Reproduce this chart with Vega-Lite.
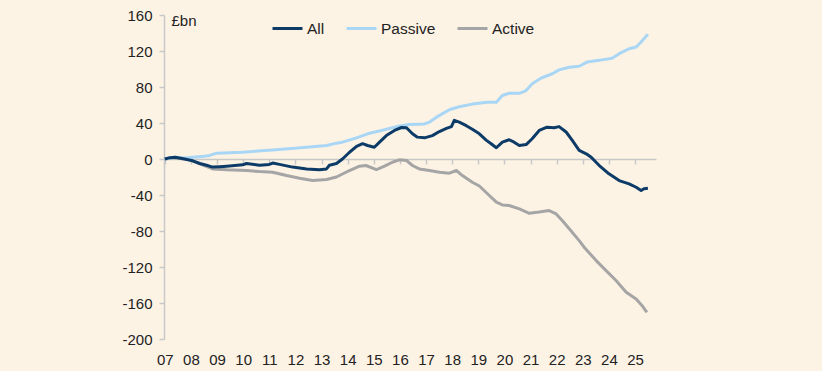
{
  "$schema": "https://vega.github.io/schema/vega-lite/v6.json",
  "autosize": "none",
  "width": 492,
  "height": 324,
  "padding": {"left": 164, "top": 15, "right": 166, "bottom": 32},
  "background": "#FDF3E5",
  "config": {
    "view": {"stroke": null},
    "font": "Liberation Sans"
  },
  "data": {
    "values": [
      {"series": "Active", "year": 2007.0, "value": 0},
      {"series": "Active", "year": 2007.3, "value": 1.5},
      {"series": "Active", "year": 2007.76, "value": 0},
      {"series": "Active", "year": 2007.96, "value": -1},
      {"series": "Active", "year": 2008.34, "value": -5.4},
      {"series": "Active", "year": 2008.83, "value": -11},
      {"series": "Active", "year": 2009.37, "value": -12},
      {"series": "Active", "year": 2010.13, "value": -12.8},
      {"series": "Active", "year": 2010.63, "value": -14},
      {"series": "Active", "year": 2011.13, "value": -14.7},
      {"series": "Active", "year": 2011.66, "value": -18.4},
      {"series": "Active", "year": 2012.16, "value": -21.4},
      {"series": "Active", "year": 2012.66, "value": -24},
      {"series": "Active", "year": 2013.19, "value": -22.8},
      {"series": "Active", "year": 2013.57, "value": -20},
      {"series": "Active", "year": 2014.07, "value": -12.8},
      {"series": "Active", "year": 2014.45, "value": -8},
      {"series": "Active", "year": 2014.7, "value": -7.2},
      {"series": "Active", "year": 2015.1, "value": -11.7},
      {"series": "Active", "year": 2015.41, "value": -8},
      {"series": "Active", "year": 2015.71, "value": -3.6},
      {"series": "Active", "year": 2015.98, "value": -0.9},
      {"series": "Active", "year": 2016.25, "value": -1.7},
      {"series": "Active", "year": 2016.48, "value": -7.2},
      {"series": "Active", "year": 2016.74, "value": -11},
      {"series": "Active", "year": 2017.13, "value": -12.8},
      {"series": "Active", "year": 2017.51, "value": -14.7},
      {"series": "Active", "year": 2017.89, "value": -15.8},
      {"series": "Active", "year": 2018.16, "value": -12.8},
      {"series": "Active", "year": 2018.39, "value": -18.4},
      {"series": "Active", "year": 2018.77, "value": -25.8},
      {"series": "Active", "year": 2019.04, "value": -30},
      {"series": "Active", "year": 2019.42, "value": -40.6},
      {"series": "Active", "year": 2019.69, "value": -48},
      {"series": "Active", "year": 2019.92, "value": -51},
      {"series": "Active", "year": 2020.18, "value": -51.7},
      {"series": "Active", "year": 2020.57, "value": -55.4},
      {"series": "Active", "year": 2020.95, "value": -60.3},
      {"series": "Active", "year": 2021.33, "value": -59},
      {"series": "Active", "year": 2021.71, "value": -57.3},
      {"series": "Active", "year": 2021.98, "value": -61},
      {"series": "Active", "year": 2022.21, "value": -68.4},
      {"series": "Active", "year": 2022.48, "value": -77.6},
      {"series": "Active", "year": 2022.86, "value": -90.7},
      {"series": "Active", "year": 2023.05, "value": -98},
      {"series": "Active", "year": 2023.51, "value": -112.9},
      {"series": "Active", "year": 2023.89, "value": -124},
      {"series": "Active", "year": 2024.27, "value": -135},
      {"series": "Active", "year": 2024.66, "value": -148},
      {"series": "Active", "year": 2025.04, "value": -155.5},
      {"series": "Active", "year": 2025.27, "value": -163},
      {"series": "Active", "year": 2025.45, "value": -170.4},

      {"series": "Passive", "year": 2007.0, "value": 0},
      {"series": "Passive", "year": 2007.4, "value": 2},
      {"series": "Passive", "year": 2007.76, "value": 1},
      {"series": "Passive", "year": 2008.07, "value": 2},
      {"series": "Passive", "year": 2008.5, "value": 3},
      {"series": "Passive", "year": 2008.72, "value": 4},
      {"series": "Passive", "year": 2008.98, "value": 6.5},
      {"series": "Passive", "year": 2009.98, "value": 7.6},
      {"series": "Passive", "year": 2011.13, "value": 10},
      {"series": "Passive", "year": 2012.43, "value": 13},
      {"series": "Passive", "year": 2013.19, "value": 15},
      {"series": "Passive", "year": 2013.57, "value": 17.6},
      {"series": "Passive", "year": 2013.8, "value": 18.7},
      {"series": "Passive", "year": 2014.34, "value": 23.5},
      {"series": "Passive", "year": 2014.76, "value": 28},
      {"series": "Passive", "year": 2015.29, "value": 31.7},
      {"series": "Passive", "year": 2015.87, "value": 36},
      {"series": "Passive", "year": 2016.36, "value": 38.4},
      {"series": "Passive", "year": 2016.94, "value": 39},
      {"series": "Passive", "year": 2017.13, "value": 41},
      {"series": "Passive", "year": 2017.4, "value": 46.5},
      {"series": "Passive", "year": 2017.89, "value": 54.7},
      {"series": "Passive", "year": 2018.27, "value": 58},
      {"series": "Passive", "year": 2018.77, "value": 61},
      {"series": "Passive", "year": 2019.34, "value": 63},
      {"series": "Passive", "year": 2019.69, "value": 63},
      {"series": "Passive", "year": 2019.92, "value": 70.6},
      {"series": "Passive", "year": 2020.18, "value": 73},
      {"series": "Passive", "year": 2020.57, "value": 73},
      {"series": "Passive", "year": 2020.83, "value": 76},
      {"series": "Passive", "year": 2021.06, "value": 83.6},
      {"series": "Passive", "year": 2021.41, "value": 90},
      {"series": "Passive", "year": 2021.83, "value": 94.7},
      {"series": "Passive", "year": 2022.09, "value": 99},
      {"series": "Passive", "year": 2022.48, "value": 102},
      {"series": "Passive", "year": 2022.86, "value": 103},
      {"series": "Passive", "year": 2023.16, "value": 107.7},
      {"series": "Passive", "year": 2023.62, "value": 109.6},
      {"series": "Passive", "year": 2024.12, "value": 112},
      {"series": "Passive", "year": 2024.39, "value": 117},
      {"series": "Passive", "year": 2024.77, "value": 122.5},
      {"series": "Passive", "year": 2025.04, "value": 124.4},
      {"series": "Passive", "year": 2025.23, "value": 130},
      {"series": "Passive", "year": 2025.49, "value": 138.5},

      {"series": "All", "year": 2007.0, "value": 0},
      {"series": "All", "year": 2007.2, "value": 1.5},
      {"series": "All", "year": 2007.4, "value": 2},
      {"series": "All", "year": 2007.76, "value": 0},
      {"series": "All", "year": 2008.07, "value": -2},
      {"series": "All", "year": 2008.34, "value": -5},
      {"series": "All", "year": 2008.6, "value": -7},
      {"series": "All", "year": 2008.83, "value": -9},
      {"series": "All", "year": 2009.1, "value": -8.5},
      {"series": "All", "year": 2009.37, "value": -8},
      {"series": "All", "year": 2009.98, "value": -6.5},
      {"series": "All", "year": 2010.13, "value": -5},
      {"series": "All", "year": 2010.63, "value": -7},
      {"series": "All", "year": 2011.0, "value": -6},
      {"series": "All", "year": 2011.13, "value": -4.5},
      {"series": "All", "year": 2011.39, "value": -6},
      {"series": "All", "year": 2011.89, "value": -9},
      {"series": "All", "year": 2012.43, "value": -11},
      {"series": "All", "year": 2012.92, "value": -12},
      {"series": "All", "year": 2013.19, "value": -11},
      {"series": "All", "year": 2013.3, "value": -7},
      {"series": "All", "year": 2013.57, "value": -5},
      {"series": "All", "year": 2013.8, "value": 0},
      {"series": "All", "year": 2014.07, "value": 7.5},
      {"series": "All", "year": 2014.34, "value": 14},
      {"series": "All", "year": 2014.57, "value": 17},
      {"series": "All", "year": 2014.76, "value": 15},
      {"series": "All", "year": 2015.02, "value": 13},
      {"series": "All", "year": 2015.22, "value": 18.7},
      {"series": "All", "year": 2015.48, "value": 26},
      {"series": "All", "year": 2015.79, "value": 31.7},
      {"series": "All", "year": 2016.06, "value": 35},
      {"series": "All", "year": 2016.25, "value": 34.7},
      {"series": "All", "year": 2016.48, "value": 28},
      {"series": "All", "year": 2016.67, "value": 24.3},
      {"series": "All", "year": 2016.94, "value": 23.5},
      {"series": "All", "year": 2017.24, "value": 26},
      {"series": "All", "year": 2017.51, "value": 30.5},
      {"series": "All", "year": 2017.78, "value": 34},
      {"series": "All", "year": 2017.97, "value": 36},
      {"series": "All", "year": 2018.08, "value": 43},
      {"series": "All", "year": 2018.27, "value": 41},
      {"series": "All", "year": 2018.54, "value": 37},
      {"series": "All", "year": 2018.77, "value": 33},
      {"series": "All", "year": 2019.04, "value": 28},
      {"series": "All", "year": 2019.3, "value": 21},
      {"series": "All", "year": 2019.49, "value": 17},
      {"series": "All", "year": 2019.69, "value": 12.5},
      {"series": "All", "year": 2019.92, "value": 18.7},
      {"series": "All", "year": 2020.18, "value": 21.4},
      {"series": "All", "year": 2020.37, "value": 18.7},
      {"series": "All", "year": 2020.57, "value": 15},
      {"series": "All", "year": 2020.83, "value": 16},
      {"series": "All", "year": 2021.06, "value": 22.5},
      {"series": "All", "year": 2021.33, "value": 31.7},
      {"series": "All", "year": 2021.63, "value": 35.4},
      {"series": "All", "year": 2021.9, "value": 34.7},
      {"series": "All", "year": 2022.09, "value": 36},
      {"series": "All", "year": 2022.36, "value": 30},
      {"series": "All", "year": 2022.59, "value": 21},
      {"series": "All", "year": 2022.86, "value": 9.5},
      {"series": "All", "year": 2023.13, "value": 5.8},
      {"series": "All", "year": 2023.32, "value": 2},
      {"series": "All", "year": 2023.62, "value": -7},
      {"series": "All", "year": 2024.0, "value": -16.5},
      {"series": "All", "year": 2024.39, "value": -24},
      {"series": "All", "year": 2024.77, "value": -27.6},
      {"series": "All", "year": 2025.04, "value": -31.4},
      {"series": "All", "year": 2025.23, "value": -35},
      {"series": "All", "year": 2025.34, "value": -33},
      {"series": "All", "year": 2025.49, "value": -32.5}
    ]
  },
  "mark": {"type": "line", "strokeWidth": 3, "strokeJoin": "round"},
  "encoding": {
    "x": {
      "field": "year",
      "type": "quantitative",
      "scale": {"domain": [2006.97, 2025.8], "nice": false, "zero": false},
      "axis": {
        "title": null,
        "values": [2007, 2008, 2009, 2010, 2011, 2012, 2013, 2014, 2015, 2016, 2017, 2018, 2019, 2020, 2021, 2022, 2023, 2024, 2025],
        "format": "d",
        "labelExpr": "substring(datum.label, 2)",
        "labelFlush": false,
        "labelOverlap": false,
        "labelBound": false,
        "offset": -180,
        "domainColor": "#c8c8c8",
        "domainWidth": 1.5,
        "tickColor": "#c8c8c8",
        "tickWidth": 1.5,
        "tickSize": 5,
        "labelPadding": 188,
        "labelFontSize": 15,
        "labelColor": "#222222",
        "labelFont": "Liberation Sans",
        "grid": false
      }
    },
    "y": {
      "field": "value",
      "type": "quantitative",
      "scale": {"domain": [-200, 160], "nice": false},
      "axis": {
        "title": "£bn",
        "titleAngle": 0,
        "titleAlign": "left",
        "titleBaseline": "top",
        "titleX": 7,
        "titleY": -2,
        "titleFontSize": 15,
        "titleFontWeight": "normal",
        "titleColor": "#222222",
        "titleFont": "Liberation Sans",
        "values": [-200, -160, -120, -80, -40, 0, 40, 80, 120, 160],
        "labelExpr": "toString(datum.value)",
        "labelFlush": false,
        "labelOverlap": false,
        "domainColor": "#c8c8c8",
        "domainWidth": 1.5,
        "tickColor": "#c8c8c8",
        "tickWidth": 1.5,
        "tickSize": 5,
        "labelPadding": 7,
        "labelFontSize": 15,
        "labelColor": "#222222",
        "labelFont": "Liberation Sans",
        "grid": false
      }
    },
    "color": {
      "field": "series",
      "type": "nominal",
      "scale": {"domain": ["All", "Passive", "Active"], "range": ["#0c3b67", "#a9d6f5", "#a5a5a5"]},
      "legend": {
        "title": null,
        "orient": "none",
        "direction": "horizontal",
        "legendX": 107,
        "legendY": -3,
        "padding": 0,
        "symbolType": "stroke",
        "symbolSize": 900,
        "symbolStrokeWidth": 3,
        "labelFontSize": 15.5,
        "labelColor": "#222222",
        "labelFont": "Liberation Sans",
        "labelOffset": 3,
        "columnPadding": 15
      }
    }
  }
}
